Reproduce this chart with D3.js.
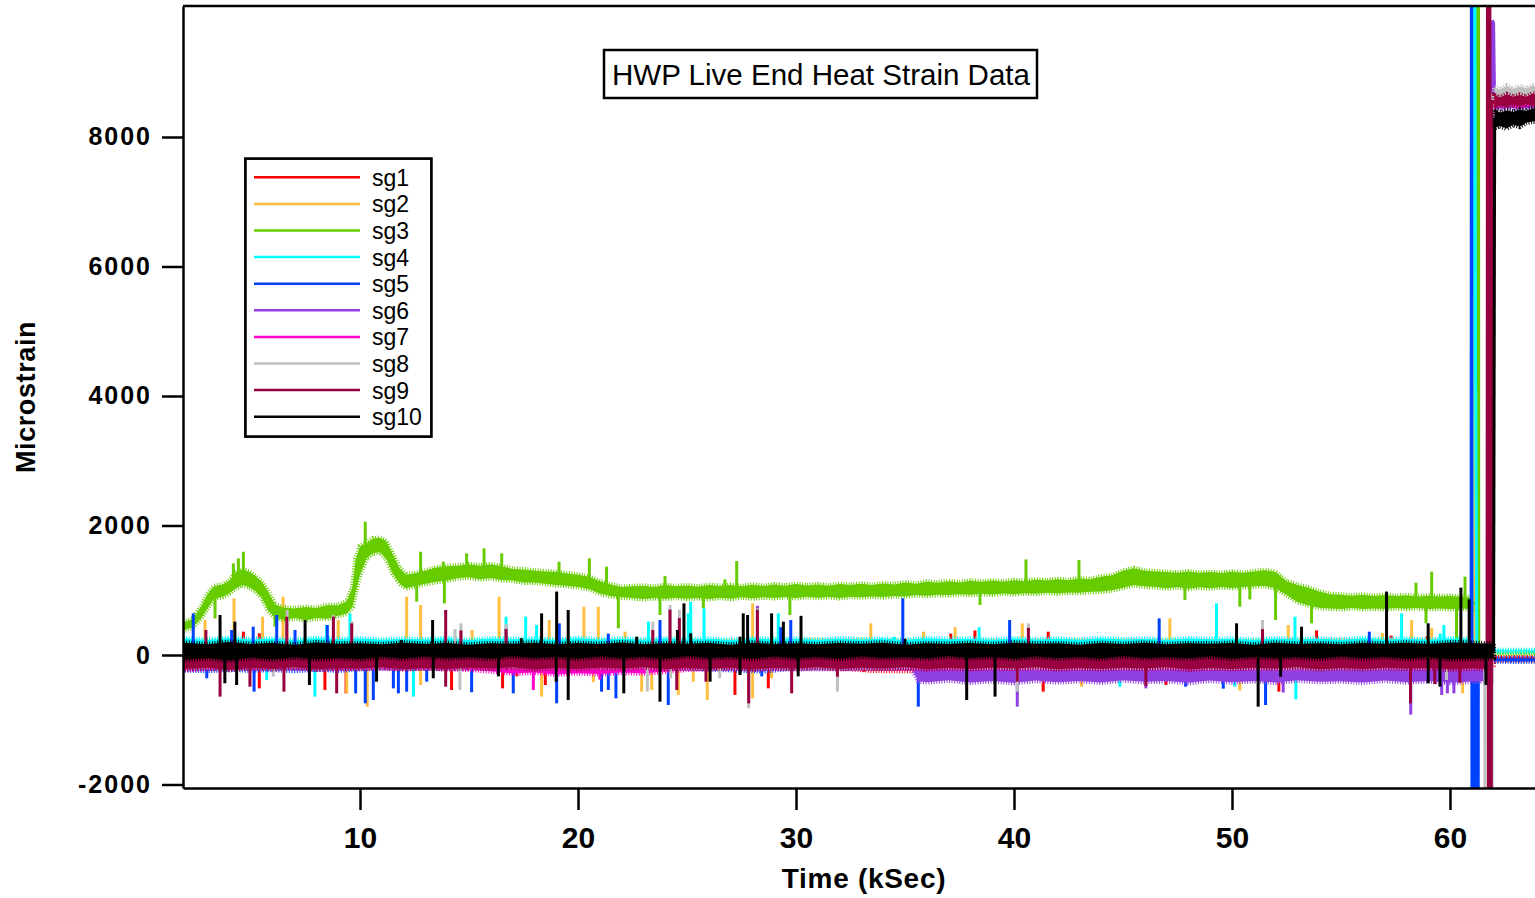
<!DOCTYPE html>
<html>
<head>
<meta charset="utf-8">
<script src="https://cdn.jsdelivr.net/npm/d3@7"></script>
<style>
  body { margin: 0; background: #fff; }
  svg { display: block; font-family: "Liberation Sans", Arial, sans-serif; }
</style>
</head>
<body>
<div id="chart"></div>
<script>
// ---- DATA ----
const seriesNames = ["sg1", "sg2", "sg3", "sg4", "sg5", "sg6", "sg7", "sg8", "sg9", "sg10"];
const seriesColors = ["#ff0000", "#ffbf40", "#66cc00", "#00ffff", "#0040ff",
                      "#9040e0", "#ff00cc", "#c0c0c0", "#99003f", "#000000"];
const xTicks = [10, 20, 30, 40, 50, 60];
const yTicks = [-2000, 0, 2000, 4000, 6000, 8000];

// noise bands: [kSec, low, high]
const sg1Band = [[1.9,-190,50],[8,-200,40],[14,-195,50],[20,-200,45],[26,-190,50],[32,-200,40],[33.5,-240,40],
  [35.3,-245,45],[36,-195,50],[42,-200,40],[48,-190,50],[54,-200,45],[60,-195,50],[62,-190,40]];
const sg2Band = [[1.9,-100,215],[8,-110,225],[14,-95,210],[20,-105,220],[26,-100,215],[32,-110,225],
  [38,-95,210],[44,-105,220],[50,-100,215],[56,-110,225],[61.1,-100,215]];
const sg3Band = [[1.9,390,510],[2.3,420,550],[2.7,560,740],[3.0,720,940],[3.3,870,1060],[3.7,900,1090],
  [4.0,950,1150],[4.3,1030,1270],[4.6,1080,1320],[4.9,1050,1290],[5.2,990,1220],[5.5,880,1130],[5.8,680,970],
  [6.1,580,780],[6.5,540,730],[7.0,570,720],[7.5,535,740],[8.0,570,725],[8.5,560,770],[9.0,605,770],[9.4,640,830],
  [9.65,740,1040],[9.8,970,1480],[10.0,1240,1680],[10.3,1490,1730],[10.6,1570,1800],[10.9,1590,1810],
  [11.2,1490,1760],[11.5,1260,1560],[11.8,1110,1350],[12.1,1030,1240],[12.5,1060,1260],[13.0,1100,1300],
  [13.5,1130,1350],[14.0,1150,1370],[14.5,1190,1380],[15.0,1200,1400],[15.5,1170,1380],[16.0,1190,1400],
  [16.5,1160,1370],[17.0,1150,1330],[17.5,1120,1320],[18.0,1120,1300],[18.5,1100,1290],[19.0,1080,1280],
  [19.5,1070,1260],[20.0,1050,1240],[20.5,1020,1210],[21.0,950,1140],[21.5,910,1090],[22.0,890,1050],
  [22.5,880,1060],[23.0,865,1070],[23.5,880,1050],[24.0,870,1080],[24.5,885,1060],[25.0,870,1075],
  [25.5,880,1055],[26.0,865,1080],[26.5,885,1065],[27.0,870,1080],[27.5,890,1060],[28.0,875,1085],
  [28.5,890,1065],[29.0,880,1090],[29.5,895,1070],[30.0,880,1095],[30.5,900,1075],[31.0,885,1090],
  [31.5,895,1070],[32.0,880,1095],[32.5,900,1080],[33.0,890,1100],[33.5,905,1080],[34.0,895,1105],
  [34.5,910,1090],[35.0,905,1120],[35.5,925,1100],[36.0,915,1130],[36.5,930,1115],[37.0,925,1140],
  [37.5,940,1120],[38.0,930,1145],[38.5,945,1130],[39.0,935,1150],[39.5,950,1130],[40.0,940,1155],
  [40.5,955,1140],[41.0,945,1165],[41.5,960,1150],[42.0,950,1170],[42.5,965,1155],[43.0,960,1180],
  [43.5,975,1170],[44.0,980,1210],[44.5,1000,1230],[45.0,1040,1300],[45.5,1080,1340],[46.0,1060,1300],
  [46.5,1050,1290],[47.0,1030,1280],[47.5,1050,1270],[48.0,1025,1290],[48.5,1045,1270],[49.0,1030,1280],
  [49.5,1050,1265],[50.0,1035,1285],[50.5,1050,1270],[51.0,1060,1290],[51.5,1070,1310],[52.0,1030,1280],
  [52.5,930,1140],[53.0,820,1080],[53.5,770,1040],[54.0,730,980],[54.5,720,940],[55.0,710,930],
  [55.5,725,915],[56.0,710,930],[56.5,720,910],[57.0,710,925],[57.5,725,910],[58.0,715,920],[58.5,725,905],
  [59.0,710,915],[59.5,720,905],[60.0,710,910],[60.5,720,900],[61.0,710,890]];
const sg4Band = [[1.9,20,255],[3,35,235],[4,15,265],[5,30,240],[6,20,250],[7,40,230],[8,25,260],[9,30,245],
  [10,20,255],[11,35,235],[12,25,250],[13,30,240],[14,15,260],[15,35,230],[16,20,255],[17,30,245],[18,25,250],
  [19,35,235],[20,20,260],[21,30,240],[22,25,250],[23,35,235],[24,20,255],[25,30,240],[26,25,250],[27,40,230],
  [28,20,255],[29,30,245],[30,25,250],[31,35,235],[32,20,255],[33,30,240],[34,25,250],[35,35,230],[36,20,260],
  [37,30,245],[38,25,250],[39,35,235],[40,20,255],[41,30,240],[42,25,250],[43,35,235],[44,20,260],[45,30,240],
  [46,25,250],[47,40,230],[48,20,255],[49,30,245],[50,25,250],[51,35,235],[52,20,255],[53,30,240],[54,25,250],
  [55,35,235],[56,20,260],[57,30,240],[58,25,250],[59,35,235],[60,20,255],[61.0,30,245]];
const sg5Band = [[1.9,-230,60],[3,-245,50],[4,-220,60],[5,-240,55],[6,-225,60],[7,-245,50],[8,-220,60],
  [9,-240,55],[10,-215,60],[12,-195,55],[15,-200,60],[18,-190,50],[21,-205,60],[24,-195,55],[27,-230,60],
  [28.5,-250,50],[30,-200,55],[33,-195,60],[36,-200,55],[40,-190,60],[44,-200,55],[48,-195,60],[52,-200,55],
  [56,-190,60],[60,-200,55],[60.97,-190,60]];
const sg6Band = [[1.9,-200,-10],[6,-215,0],[12,-205,-10],[18,-210,0],[24,-200,-10],[30,-215,0],[35.3,-205,-10],
  [35.6,-400,-190],[36,-420,-180],[37,-390,-195],[38,-425,-175],[39,-400,-190],[40,-430,-180],[41,-395,-195],
  [42,-420,-175],[43,-400,-190],[44,-425,-180],[45,-390,-195],[46,-415,-175],[47,-400,-190],[48,-430,-180],
  [49,-395,-195],[50,-420,-175],[51,-400,-190],[52,-425,-180],[53,-390,-195],[54,-415,-175],[55,-405,-190],
  [56,-425,-180],[57,-395,-195],[58,-420,-175],[59,-400,-190],[60,-430,-180],[61,-410,-190],[61.9,-400,-190]];
const sg7Band = [[1.9,-230,10],[3,-215,0],[4,-200,10],[5,-210,0],[6,-195,10],[7,-205,0],[8,-200,10],[9,-215,0],
  [10,-205,10],[11,-200,0],[12,-210,10],[13,-205,0],[14,-215,10],[15,-225,0],[16,-250,10],[17,-285,0],
  [18,-270,10],[19,-300,0],[20,-280,10],[21,-295,0],[22,-270,10],[23,-285,0],[24,-255,10],[25,-225,0],
  [26,-210,10],[32,-205,0],[38,-210,10],[44,-205,0],[50,-210,10],[56,-205,0],[61.9,-210,0]];
const sg8Band = [[1.9,-190,70],[6,-200,60],[12,-185,75],[18,-195,65],[24,-190,70],[30,-200,60],[36,-185,75],
  [42,-195,65],[48,-190,70],[54,-200,60],[60,-190,70],[61.6,-190,65]];
const sg9Band = [[1.9,-220,40],[3,-195,55],[4,-230,35],[5,-200,50],[6,-215,40],[7,-190,55],[8,-225,35],
  [9,-205,50],[10,-210,40],[11,-190,55],[12,-220,35],[13,-200,50],[14,-215,40],[15,-195,55],[16,-210,35],
  [17,-190,50],[18,-225,40],[19,-200,55],[20,-215,35],[21,-195,50],[22,-210,40],[23,-190,55],[24,-220,35],
  [25,-200,50],[26,-215,40],[27,-195,55],[28,-225,35],[29,-200,50],[30,-210,40],[31,-190,55],[32,-215,35],
  [33,-195,50],[34,-210,40],[35,-190,55],[36,-220,35],[37,-200,50],[38,-215,40],[39,-195,55],[40,-210,35],
  [41,-190,50],[42,-220,40],[43,-200,55],[44,-215,35],[45,-195,50],[46,-210,40],[47,-190,55],[48,-225,35],
  [49,-200,50],[50,-215,40],[51,-195,55],[52,-210,35],[53,-190,50],[54,-220,40],[55,-200,55],[56,-215,35],
  [57,-195,50],[58,-210,40],[59,-200,55],[60,-225,35],[61,-205,50],[61.7,-215,40]];
const sg10Band = [[1.9,-75,190],[3,-45,165],[4,-80,200],[5,-40,170],[6,-70,185],[7,-35,160],[8,-65,195],
  [9,-45,175],[10,-60,180],[11,-30,165],[12,-55,190],[13,-25,170],[14,-50,185],[15,-35,160],[16,-55,180],
  [17,-20,175],[18,-45,190],[19,-30,165],[20,-55,185],[21,-25,170],[22,-50,195],[23,-30,165],[24,-55,180],
  [25,-20,175],[26,-45,185],[27,-35,160],[28,-55,190],[29,-25,170],[30,-50,180],[31,-30,165],[32,-55,185],
  [33,-25,175],[34,-45,190],[35,-35,160],[36,-50,180],[37,-20,170],[38,-45,185],[39,-30,165],[40,-55,190],
  [41,-25,175],[42,-50,180],[43,-30,160],[44,-55,185],[45,-20,170],[46,-45,190],[47,-35,165],[48,-50,180],
  [49,-25,175],[50,-55,185],[51,-30,160],[52,-45,190],[53,-35,170],[54,-55,180],[55,-25,165],[56,-50,185],
  [57,-30,175],[58,-55,190],[59,-35,170],[60,-65,195],[61,-55,185],[62.0,-45,175]];

// spikes: [kSec, peak microstrain]
const sg1Spikes = [[4.65,360],[5.38,335],[5.38,-515],[8.39,-540],[9.36,-592],[14.2,-540],[16.54,-515],
  [17.2,-330],[18.5,-463],[27.2,-617],[28.73,-515],[33.1,-260],[37.1,330],[38.21,380],[41.34,-566],
  [41.57,360],[46.97,-463],[52.15,-566],[53.88,380],[57.3,300],[58.95,290]];
const sg2Spikes = [[2.89,540],[4.22,875],[5.53,592],[6.47,900],[9.0,540],[9.39,-592],[10.33,-798],[12.14,900],
  [12.78,772],[12.78,-463],[15.14,386],[16.38,900],[18.33,-643],[18.68,540],[20.27,746],[20.7,-420],
  [20.93,746],[22.16,360],[22.92,-566],[23.38,-540],[24.6,-617],[25.29,-412],[25.93,-695],[28.01,797],
  [28.01,-669],[28.88,-360],[33.43,489],[35.85,360],[37.3,430],[40.38,489],[43.1,-489],[47.15,566],
  [50.36,-550],[52.58,463],[56.9,340],[58.24,540],[59.16,420],[60.58,-592]];
const sg3Spikes = [[4.19,1415],[4.42,1492],[4.65,1595],[10.24,2058],[12.78,1595],[13.82,1441],[14.89,1570],
  [15.69,1647],[16.5,1570],[19.13,1441],[20.52,1492],[21.31,1364],[23.99,1220],[26.74,1168],[27.28,1451],
  [40.55,1476],[42.98,1466],[58.44,1117],[59.16,1287],[60.69,1210],
  [3.35,566],[6.1,437],[12.6,823],[13.87,797],[21.85,412],[23.76,618],[25.75,720],[29.72,618],[38.44,772],
  [47.84,849],[50.36,746],[50.82,859],[52.0,540],[53.65,489],[58.9,489],[60.3,232]];
const sg4Spikes = [[5.72,-386],[7.93,-643],[8.47,463],[9.54,643],[12.45,-643],[16.7,592],[17.6,592],[18.1,463],
  [23.23,515],[25.06,643],[25.17,823],[25.78,720],[29.19,643],[33.9,260],[34.5,280],[38.4,430],[44.86,-489],
  [49.29,797],[50.13,-489],[52.89,592],[52.93,-685],[57.78,643],[59.55,330],[59.72,463],[60.0,-309]];
const sg5Spikes = [[2.35,643],[2.97,-360],[4.11,386],[5.1,437],[5.14,-566],[6.18,618],[7.02,386],[8.5,463],
  [9.8,-592],[10.24,-746],[10.61,-695],[11.53,-515],[11.76,-592],[12.14,-566],[13.06,-412],[15.12,-575],
  [17.03,-592],[19.02,-746],[19.14,489],[21.08,-566],[21.39,330],[21.39,-540],[21.74,-669],[23.76,540],
  [24.14,-772],[28.43,-330],[29.3,430],[29.76,540],[34.9,875],[35.61,-798],[39.8,540],[46.66,566],
  [47.87,-489],[49.6,-520],[51.54,-772],[56.3,360],[59.6,-450]];
const sg6Spikes = [[16.7,420],[28.23,760],[40.15,-798],[46.05,-515],[52.35,-580],[58.2,-920],[59.62,-617],
  [59.88,-592],[60.18,-592]];
const sg7Spikes = [[17.95,-540],[21.0,-380]];
const sg8Spikes = [[6.02,-335],[6.66,695],[8.78,618],[9.62,520],[14.36,400],[14.58,-540],[14.63,489],[16.7,480],
  [23.18,-566],[23.43,515],[24.22,772],[24.25,-360],[24.65,700],[26.5,-360],[27.83,-823],[28.23,720],
  [31.9,-566],[40.15,-566],[40.66,489],[51.4,540],[59.84,-386]];
const sg9Spikes = [[2.93,386],[3.58,-643],[4.95,-489],[6.51,-566],[6.64,592],[8.78,592],[8.93,-592],[9.62,489],
  [13.93,695],[13.93,-489],[14.63,380],[16.7,400],[23.43,386],[24.22,700],[24.53,-540],[24.65,570],
  [25.87,-412],[27.83,-746],[28.23,700],[29.8,-592],[31.9,-335],[40.15,-412],[40.66,420],[46.05,-480],
  [51.4,400],[58.19,-746],[59.3,-450],[60.45,-430]];
const sg10Spikes = [[3.58,618],[4.26,515],[7.48,540],[11.9,230],[13.33,540],[17.4,260],[18.33,643],[19.02,980],
  [19.55,695],[22.69,283],[24.56,386],[24.86,797],[25.17,335],[27.43,283],[27.58,643],[27.78,618],
  [28.88,643],[29.42,515],[30.23,605],[35.0,250],[50.21,489],[53.19,437],[57.09,980],[59.0,489],
  [60.5,1040],[60.88,860],
  [3.8,-437],[4.34,-463],[7.68,-463],[10.76,-412],[13.36,-360],[16.35,-330],[19.0,-412],[19.55,-695],
  [22.1,-592],[23.76,-721],[26.06,-412],[27.43,-309],[30.1,-330],[37.83,-695],[39.13,-643],[51.2,-798],
  [52.23,-335],[59.0,-437],[59.54,-489],[61.65,-463]];

// gauge saturation near 61-62 kSec: [kSec, microstrain]
const sg2Jump = [[61.13,-60],[61.15,20000],[61.2,20000],[61.22,-60]];
const sg3Jump = [[61.0,800],[61.25,800],[61.27,20000],[61.3,20000],[61.32,35]];
const sg4Jump = [[61.0,150],[61.07,20000],[61.1,20000],[61.17,4800],[61.23,60]];
const sg5Jump = [[60.97,-60],[60.99,20000],[61.02,-20000],[61.06,-50],[61.1,-20000],[61.14,-50],
  [61.18,-20000],[61.22,-50],[61.26,-20000],[61.3,-50],[61.33,-80]];
const sg6Jump = [[61.9,-300],[61.95,9800],[62.0,9760],[62.05,8500]];
const sg7Jump = [[61.9,-200],[61.98,8500],[62.05,8520]];
const sg8Jump = [[61.6,-50],[61.66,-20000],[61.9,-20000],[61.95,8650],[62.05,8650]];
const sg9Jump = [[61.7,-100],[61.74,20000],[61.78,-20000],[61.82,20000],[61.86,-20000],[61.92,8550],[62.05,8550]];
const sg10Jump = [[62.0,40],[62.05,8300]];

// readings after the event: [kSec, low, high]
const sg1After = [[62.1,-80,-40],[64.5,-80,-40]];
const sg3After = [[61.32,28,40],[64.5,28,40]];
const sg4After = [[61.23,55,72],[64.5,55,72]];
const sg5After = [[61.33,-100,-50],[62.4,-95,-55],[63.1,-102,-50],[63.8,-96,-54],[64.5,-100,-50]];
const sg6After = [[62.05,8440,8580],[64.5,8450,8580]];
const sg7After = [[62.05,8470,8600],[62.6,8500,8580],[63.2,8470,8610],[63.8,8500,8590],[64.5,8480,8600]];
const sg8After = [[62.05,8580,8770],[62.3,8620,8730],[62.6,8590,8790],[62.9,8630,8740],[63.2,8600,8780],
  [63.5,8640,8750],[63.8,8610,8790],[64.5,8620,8760]];
const sg9After = [[62.05,8450,8640],[62.3,8490,8610],[62.6,8460,8660],[62.9,8500,8620],[63.2,8470,8650],
  [63.5,8510,8620],[63.8,8480,8670],[64.5,8500,8630]];
const sg10After = [[62.05,8140,8420],[62.3,8170,8380],[62.6,8130,8410],[62.9,8190,8390],[63.2,8160,8420],
  [63.5,8220,8400],[63.8,8240,8440],[64.5,8250,8430]];

const bands = [sg1Band, sg2Band, sg3Band, sg4Band, sg5Band, sg6Band, sg7Band, sg8Band, sg9Band, sg10Band];
const spikes = [sg1Spikes, sg2Spikes, sg3Spikes, sg4Spikes, sg5Spikes, sg6Spikes, sg7Spikes, sg8Spikes, sg9Spikes, sg10Spikes];
const jumps = [[], sg2Jump, sg3Jump, sg4Jump, sg5Jump, sg6Jump, sg7Jump, sg8Jump, sg9Jump, sg10Jump];
const afters = [sg1After, [], sg3After, sg4After, sg5After, sg6After, sg7After, sg8After, sg9After, sg10After];

// ---- LAYOUT ----
const W = 1535, H = 898;
const PLOT = { LEFT: 183, TOP: 6, BOTTOM: 788, RIGHT: 1535 };

const svg = d3.select("#chart").append("svg")
  .attr("width", W)
  .attr("height", H);

svg.append("rect").attr("width", W).attr("height", H).attr("fill", "#fff");

const x = d3.scaleLinear().domain([1.88, 63.9]).range([PLOT.LEFT, PLOT.RIGHT]);
const y = d3.scaleLinear().domain([-2054, 10023]).range([PLOT.BOTTOM, PLOT.TOP]);

svg.append("clipPath").attr("id", "plotClip")
  .append("rect")
  .attr("x", PLOT.LEFT).attr("y", PLOT.TOP)
  .attr("width", W - PLOT.LEFT + 10).attr("height", PLOT.BOTTOM - PLOT.TOP);

const plot = svg.append("g").attr("clip-path", "url(#plotClip)");

const area = d3.area()
  .x(d => x(d[0]))
  .y0(d => y(d[1]))
  .y1(d => y(d[2]));
const line = d3.line()
  .x(d => x(d[0]))
  .y(d => y(d[1]));

// spike base = middle of the noise band at that time
const bis = d3.bisector(d => d[0]);
function bandMid(band, t) {
  const i = bis.center(band, t);
  return (band[i][1] + band[i][2]) / 2;
}

// dense noise: solid core plus a dashed outline that reads as hairline fuzz
function drawBand(g, data, color) {
  g.append("path")
    .attr("d", area(data))
    .attr("fill", color)
    .attr("stroke", "none");
  g.append("path")
    .attr("d", area(data))
    .attr("fill", "none")
    .attr("stroke", color)
    .attr("stroke-width", 5)
    .attr("stroke-dasharray", "1 1.6");
}

// draw traces in order so sg10 ends on top
seriesNames.forEach((name, i) => {
  const color = seriesColors[i];
  const g = plot.append("g").attr("class", "trace " + name);

  drawBand(g, bands[i], color);
  if (afters[i].length) drawBand(g, afters[i], color);

  g.selectAll("line.spike")
    .data(spikes[i])
    .enter()
    .append("line")
    .attr("class", "spike")
    .attr("x1", d => x(d[0]))
    .attr("x2", d => x(d[0]))
    .attr("y1", d => y(bandMid(bands[i], d[0])))
    .attr("y2", d => y(d[1]))
    .attr("stroke", color)
    .attr("stroke-width", 3);

  if (jumps[i].length) {
    g.append("path")
      .attr("d", line(jumps[i]))
      .attr("fill", "none")
      .attr("stroke", color)
      .attr("stroke-width", 3);
  }
});

// ---- AXES ----
const yAxis = d3.axisLeft(y)
  .tickValues(yTicks)
  .tickSize(21)
  .tickSizeOuter(0)
  .tickPadding(10)
  .tickFormat(d => String(d));
const yAxisG = svg.append("g")
  .attr("transform", `translate(${PLOT.LEFT},0)`)
  .call(yAxis);
yAxisG.select(".domain").attr("stroke-width", 2.5);
yAxisG.selectAll(".tick line").attr("stroke-width", 2.5);
yAxisG.selectAll(".tick text")
  .attr("font-size", 25)
  .attr("font-weight", "bold")
  .attr("letter-spacing", "2px")
  .attr("font-family", "'Liberation Sans', Arial, sans-serif")
  .attr("fill", "#000");

const xAxis = d3.axisBottom(x)
  .tickValues(xTicks)
  .tickSize(22)
  .tickSizeOuter(0)
  .tickPadding(17);
const xAxisG = svg.append("g")
  .attr("transform", `translate(0,${PLOT.BOTTOM})`)
  .call(xAxis);
xAxisG.select(".domain").attr("stroke-width", 2.5);
xAxisG.selectAll(".tick line").attr("stroke-width", 2.5);
xAxisG.selectAll(".tick text")
  .attr("font-size", 30)
  .attr("font-weight", "bold")
  .attr("font-family", "'Liberation Sans', Arial, sans-serif")
  .attr("fill", "#000");

// top edge of the frame (right edge falls outside the picture)
svg.append("line")
  .attr("x1", PLOT.LEFT).attr("x2", W + 5)
  .attr("y1", PLOT.TOP).attr("y2", PLOT.TOP)
  .attr("stroke", "#000")
  .attr("stroke-width", 2.5);

// AXIS TITLES
svg.append("text")
  .attr("x", 864)
  .attr("y", 888)
  .attr("text-anchor", "middle")
  .attr("font-size", 28)
  .attr("font-weight", "bold")
  .attr("letter-spacing", "0.7px")
  .text("Time (kSec)");

svg.append("text")
  .attr("transform", "translate(35,397) rotate(-90)")
  .attr("text-anchor", "middle")
  .attr("font-size", 27)
  .attr("font-weight", "bold")
  .attr("letter-spacing", "0.6px")
  .text("Microstrain");

// TITLE BOX
svg.append("rect")
  .attr("x", 604).attr("y", 50)
  .attr("width", 433).attr("height", 48)
  .attr("fill", "#fff")
  .attr("stroke", "#000")
  .attr("stroke-width", 2.5);
svg.append("text")
  .attr("x", 612)
  .attr("y", 85)
  .attr("font-size", 30)
  .attr("textLength", 418)
  .attr("lengthAdjust", "spacingAndGlyphs")
  .text("HWP Live End Heat Strain Data");

// LEGEND
const legend = svg.append("g");
legend.append("rect")
  .attr("x", 245.4).attr("y", 158.6)
  .attr("width", 186).attr("height", 278)
  .attr("fill", "#fff")
  .attr("stroke", "#000")
  .attr("stroke-width", 2.7);

const rowY = i => 177.3 + i * 26.6;
legend.selectAll("line.key")
  .data(seriesNames)
  .enter()
  .append("line")
  .attr("class", "key")
  .attr("x1", 254).attr("x2", 360)
  .attr("y1", (d, i) => rowY(i)).attr("y2", (d, i) => rowY(i))
  .attr("stroke", (d, i) => seriesColors[i])
  .attr("stroke-width", 2.5);
legend.selectAll("text.key")
  .data(seriesNames)
  .enter()
  .append("text")
  .attr("class", "key")
  .attr("x", 372)
  .attr("y", (d, i) => rowY(i) + 8.5)
  .attr("font-size", 23)
  .text(d => d);
</script>
</body>
</html>
